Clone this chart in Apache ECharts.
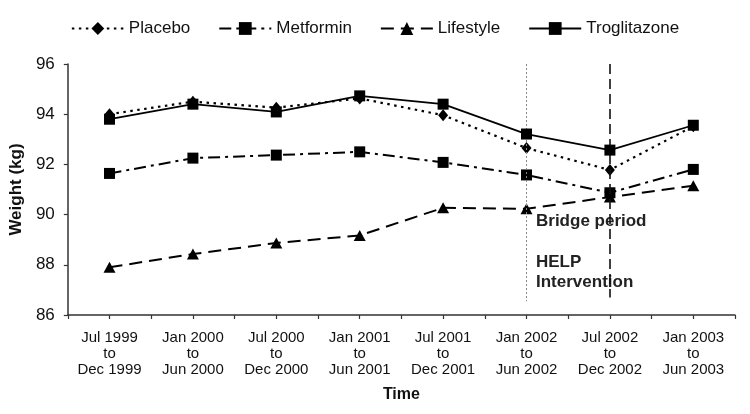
<!DOCTYPE html>
<html>
<head>
<meta charset="utf-8">
<script src="https://cdn.jsdelivr.net/npm/echarts@6/dist/echarts.min.js"></script>
<style>
html,body{margin:0;padding:0;background:#fff;}
#main{width:750px;height:414px;}
</style>
</head>
<body>
<div id="main"></div>
<script>
var categories = [
  'Jul 1999\nto\nDec 1999', 'Jan 2000\nto\nJun 2000', 'Jul 2000\nto\nDec 2000', 'Jan 2001\nto\nJun 2001',
  'Jul 2001\nto\nDec 2001', 'Jan 2002\nto\nJun 2002', 'Jul 2002\nto\nDec 2002', 'Jan 2003\nto\nJun 2003'
];
var placebo      = [94.0, 94.5, 94.26, 94.63, 93.96, 92.65, 91.78, 93.52];
var metformin    = [91.64, 92.25, 92.37, 92.5, 92.08, 91.58, 90.87, 91.8];
var lifestyle    = [87.9, 88.43, 88.87, 89.17, 90.27, 90.23, 90.7, 91.15];
var troglitazone = [93.8, 94.4, 94.09, 94.73, 94.4, 93.21, 92.57, 93.56];
var yTicks = {min: 86, max: 96, interval: 2};
var bridgeIndex = 5;   // Bridge period start
var helpIndex = 6;     // HELP Intervention start

var FONT = '"Liberation Sans", Arial, sans-serif';
var chart = echarts.init(document.getElementById('main'), null, {renderer: 'canvas'});

function vline(idx, yTop, yBottom, style) {
  return [{coord: [idx, yTop], lineStyle: style}, {coord: [idx, yBottom]}];
}

var option = {
  animation: false,
  backgroundColor: '#fff',
  textStyle: {fontFamily: FONT, color: '#111'},
  legend: {
    top: 15,
    left: 'center',
    itemWidth: 52,
    itemHeight: 16,
    itemGap: 28,
    textStyle: {fontFamily: FONT, fontSize: 17, color: '#111'},
    data: ['Placebo', 'Metformin', 'Lifestyle', 'Troglitazone']
  },
  grid: {left: 67, right: 15, top: 64, bottom: 99},
  xAxis: [{
    type: 'category',
    data: categories,
    boundaryGap: true,
    axisLine: {lineStyle: {color: '#333', width: 1.5}},
    axisTick: {show: true, alignWithLabel: false, length: 4, lineStyle: {color: '#333', width: 1.2}},
    axisLabel: {fontFamily: FONT, fontSize: 15, color: '#111', lineHeight: 16, margin: 15, interval: 0},
    name: 'Time',
    nameLocation: 'middle',
    nameGap: 72,
    nameTextStyle: {fontFamily: FONT, fontSize: 16, fontWeight: 'bold', color: '#111'}
  }, {
    type: 'category',
    data: categories,
    boundaryGap: true,
    position: 'bottom',
    axisLine: {show: false},
    axisTick: {show: true, alignWithLabel: true, length: 4, lineStyle: {color: '#333', width: 1.2}},
    axisLabel: {show: false}
  }],
  yAxis: {
    type: 'value',
    min: yTicks.min, max: yTicks.max, interval: yTicks.interval,
    splitLine: {show: false},
    axisLine: {show: true, lineStyle: {color: '#333', width: 1.5}},
    axisTick: {show: true, length: 4, lineStyle: {color: '#333', width: 1.2}},
    axisLabel: {fontFamily: FONT, fontSize: 17, color: '#111', margin: 13},
    name: 'Weight (kg)',
    nameLocation: 'middle',
    nameGap: 39,
    nameTextStyle: {fontFamily: FONT, fontSize: 17, fontWeight: 'bold', color: '#111'}
  },
  series: [
    {
      name: 'Placebo', type: 'line', data: placebo, z: 3,
      symbol: 'diamond', symbolSize: [10, 12],
      itemStyle: {color: '#000'},
      lineStyle: {color: '#000', width: 2.2, type: [2.5, 4.5]},
      markLine: {
        silent: true, symbol: 'none', label: {show: false},
        data: [
          vline(bridgeIndex, 96, 86.55, {color: '#888', width: 1, type: [2, 2]}),
          vline(helpIndex, 96, 86.7, {color: '#111', width: 1.6, type: [10, 5]})
        ]
      }
    },
    {
      name: 'Metformin', type: 'line', data: metformin, z: 4,
      symbol: 'rect', symbolSize: 11,
      itemStyle: {color: '#000'},
      lineStyle: {color: '#000', width: 2, type: [12, 5, 3, 5]}
    },
    {
      name: 'Lifestyle', type: 'line', data: lifestyle, z: 4,
      symbol: 'triangle', symbolSize: [12, 11],
      itemStyle: {color: '#000'},
      lineStyle: {color: '#000', width: 2, type: [13, 7]}
    },
    {
      name: 'Troglitazone', type: 'line', data: troglitazone, z: 5,
      symbol: 'rect', symbolSize: 11,
      itemStyle: {color: '#000'},
      lineStyle: {color: '#000', width: 1.8, type: 'solid'}
    }
  ],
  graphic: [
    {type: 'text', left: 536, top: 213, style: {text: 'Bridge period', font: 'bold 17px ' + FONT, fill: '#222'}},
    {type: 'text', left: 536, top: 252, style: {text: 'HELP\nIntervention', font: 'bold 17px ' + FONT, fill: '#222', lineHeight: 20}}
  ]
};
chart.setOption(option);
</script>
</body>
</html>
